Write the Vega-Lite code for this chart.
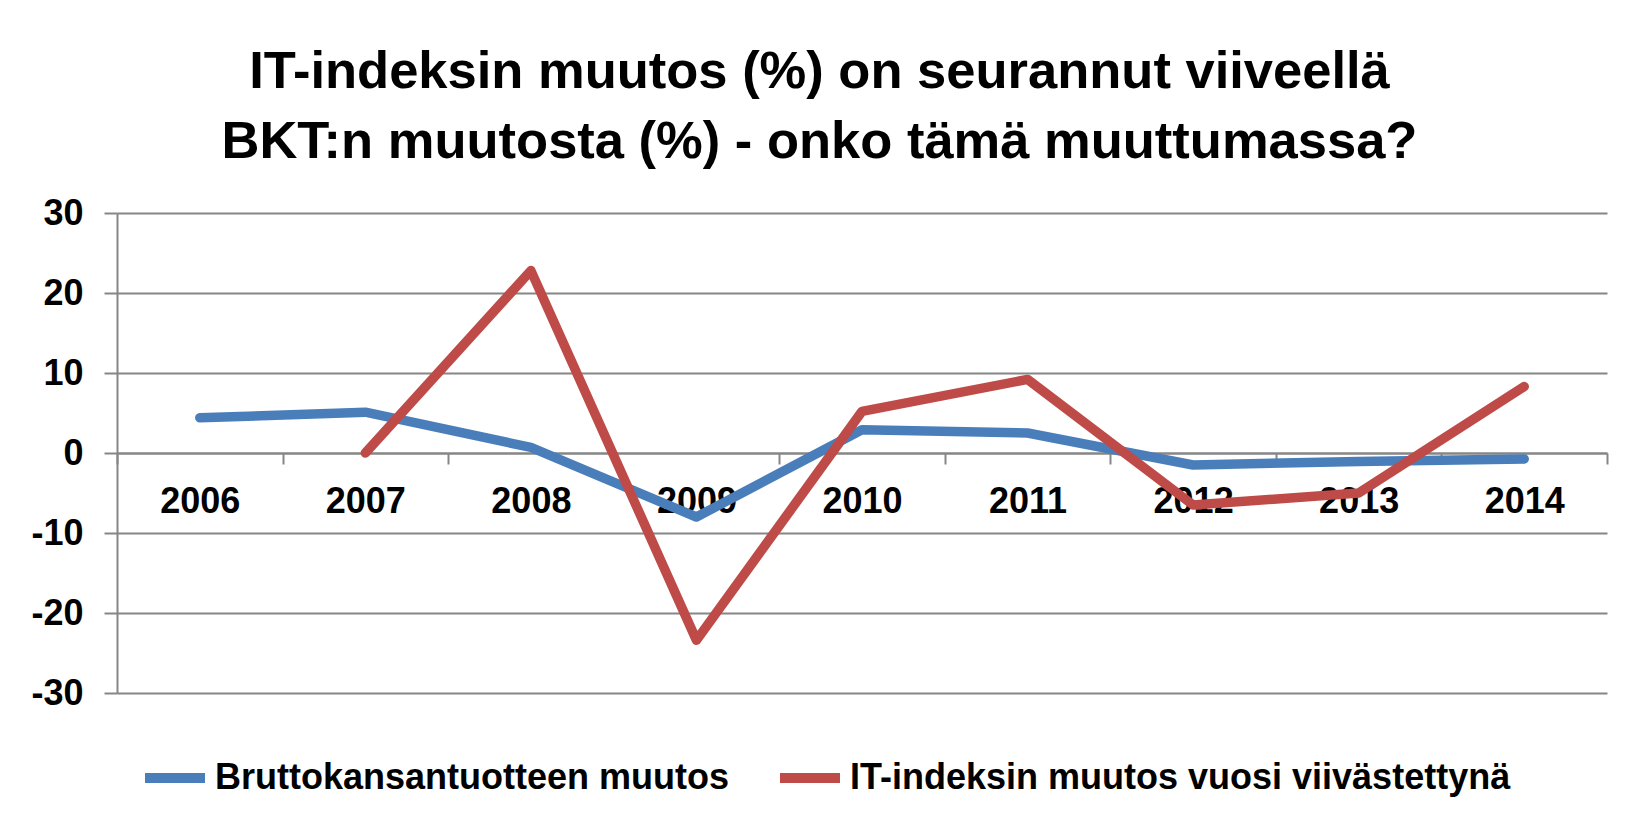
{
  "$schema": "https://vega.github.io/schema/vega-lite/v6.json",
  "width": 1490,
  "height": 480,
  "autosize": {"type": "none"},
  "padding": {"left": 117, "top": 213, "right": 37, "bottom": 124},
  "background": "white",
  "title": {
    "text": ["IT-indeksin muutos (%) on seurannut viiveellä", "BKT:n muutosta (%) - onko tämä muuttumassa?"],
    "font": "Liberation Sans",
    "fontSize": 52.5,
    "fontWeight": "bold",
    "color": "black",
    "lineHeight": 70,
    "anchor": "middle",
    "frame": "bounds",
    "offset": 26
  },
  "data": {
    "values": [
      {"year": "2006", "series": "Bruttokansantuotteen muutos", "value": 4.4},
      {"year": "2007", "series": "Bruttokansantuotteen muutos", "value": 5.1},
      {"year": "2008", "series": "Bruttokansantuotteen muutos", "value": 0.7},
      {"year": "2009", "series": "Bruttokansantuotteen muutos", "value": -8.0},
      {"year": "2010", "series": "Bruttokansantuotteen muutos", "value": 2.9},
      {"year": "2011", "series": "Bruttokansantuotteen muutos", "value": 2.5},
      {"year": "2012", "series": "Bruttokansantuotteen muutos", "value": -1.5},
      {"year": "2013", "series": "Bruttokansantuotteen muutos", "value": -1.05},
      {"year": "2014", "series": "Bruttokansantuotteen muutos", "value": -0.75},
      {"year": "2007", "series": "IT-indeksin muutos vuosi viivästettynä", "value": 0},
      {"year": "2008", "series": "IT-indeksin muutos vuosi viivästettynä", "value": 22.8},
      {"year": "2009", "series": "IT-indeksin muutos vuosi viivästettynä", "value": -23.4},
      {"year": "2010", "series": "IT-indeksin muutos vuosi viivästettynä", "value": 5.2},
      {"year": "2011", "series": "IT-indeksin muutos vuosi viivästettynä", "value": 9.2},
      {"year": "2012", "series": "IT-indeksin muutos vuosi viivästettynä", "value": -6.5},
      {"year": "2013", "series": "IT-indeksin muutos vuosi viivästettynä", "value": -5.0},
      {"year": "2014", "series": "IT-indeksin muutos vuosi viivästettynä", "value": 8.3}
    ]
  },
  "mark": {"type": "line", "strokeWidth": 9.5, "strokeCap": "round", "strokeJoin": "round"},
  "encoding": {
    "x": {
      "field": "year",
      "type": "nominal",
      "bandPosition": 0.5,
      "scale": {"type": "band", "paddingInner": 0, "paddingOuter": 0},
      "axis": {
        "orient": "bottom",
        "offset": -240,
        "title": null,
        "grid": false,
        "labelAngle": 0,
        "labelFont": "Liberation Sans",
        "labelFontSize": 36,
        "labelFontWeight": "bold",
        "labelColor": "black",
        "labelPadding": 20,
        "domainColor": "#868686",
        "domainWidth": 2,
        "tickColor": "#868686",
        "tickWidth": 2,
        "tickSize": 11,
        "tickBand": "extent",
        "zindex": 0
      }
    },
    "y": {
      "field": "value",
      "type": "quantitative",
      "scale": {"domain": [-30, 30], "nice": false},
      "axis": {
        "values": [-30, -20, -10, 0, 10, 20, 30],
        "format": "d",
        "labelExpr": "replace(datum.label, '\u2212', '-')",
        "title": null,
        "grid": true,
        "gridColor": "#868686",
        "gridWidth": 2,
        "labelFont": "Liberation Sans",
        "labelFontSize": 36,
        "labelFontWeight": "bold",
        "labelColor": "black",
        "labelPadding": 21,
        "domainColor": "#868686",
        "domainWidth": 2,
        "tickColor": "#868686",
        "tickWidth": 2,
        "tickSize": 13,
        "zindex": 0
      }
    },
    "color": {
      "field": "series",
      "type": "nominal",
      "scale": {
        "domain": ["Bruttokansantuotteen muutos", "IT-indeksin muutos vuosi viivästettynä"],
        "range": ["#4A7EBB", "#BE4B48"]
      },
      "legend": {
        "orient": "none",
        "legendX": 23,
        "legendY": 530,
        "direction": "horizontal",
        "title": null,
        "padding": 0,
        "symbolType": "stroke",
        "symbolSize": 3600,
        "symbolStrokeWidth": 10,
        "labelFont": "Liberation Sans",
        "labelFontSize": 36,
        "labelFontWeight": "bold",
        "labelColor": "black",
        "labelLimit": 1000,
        "labelOffset": 5,
        "columnPadding": 30
      }
    }
  },
  "config": {"view": {"stroke": null}}
}
